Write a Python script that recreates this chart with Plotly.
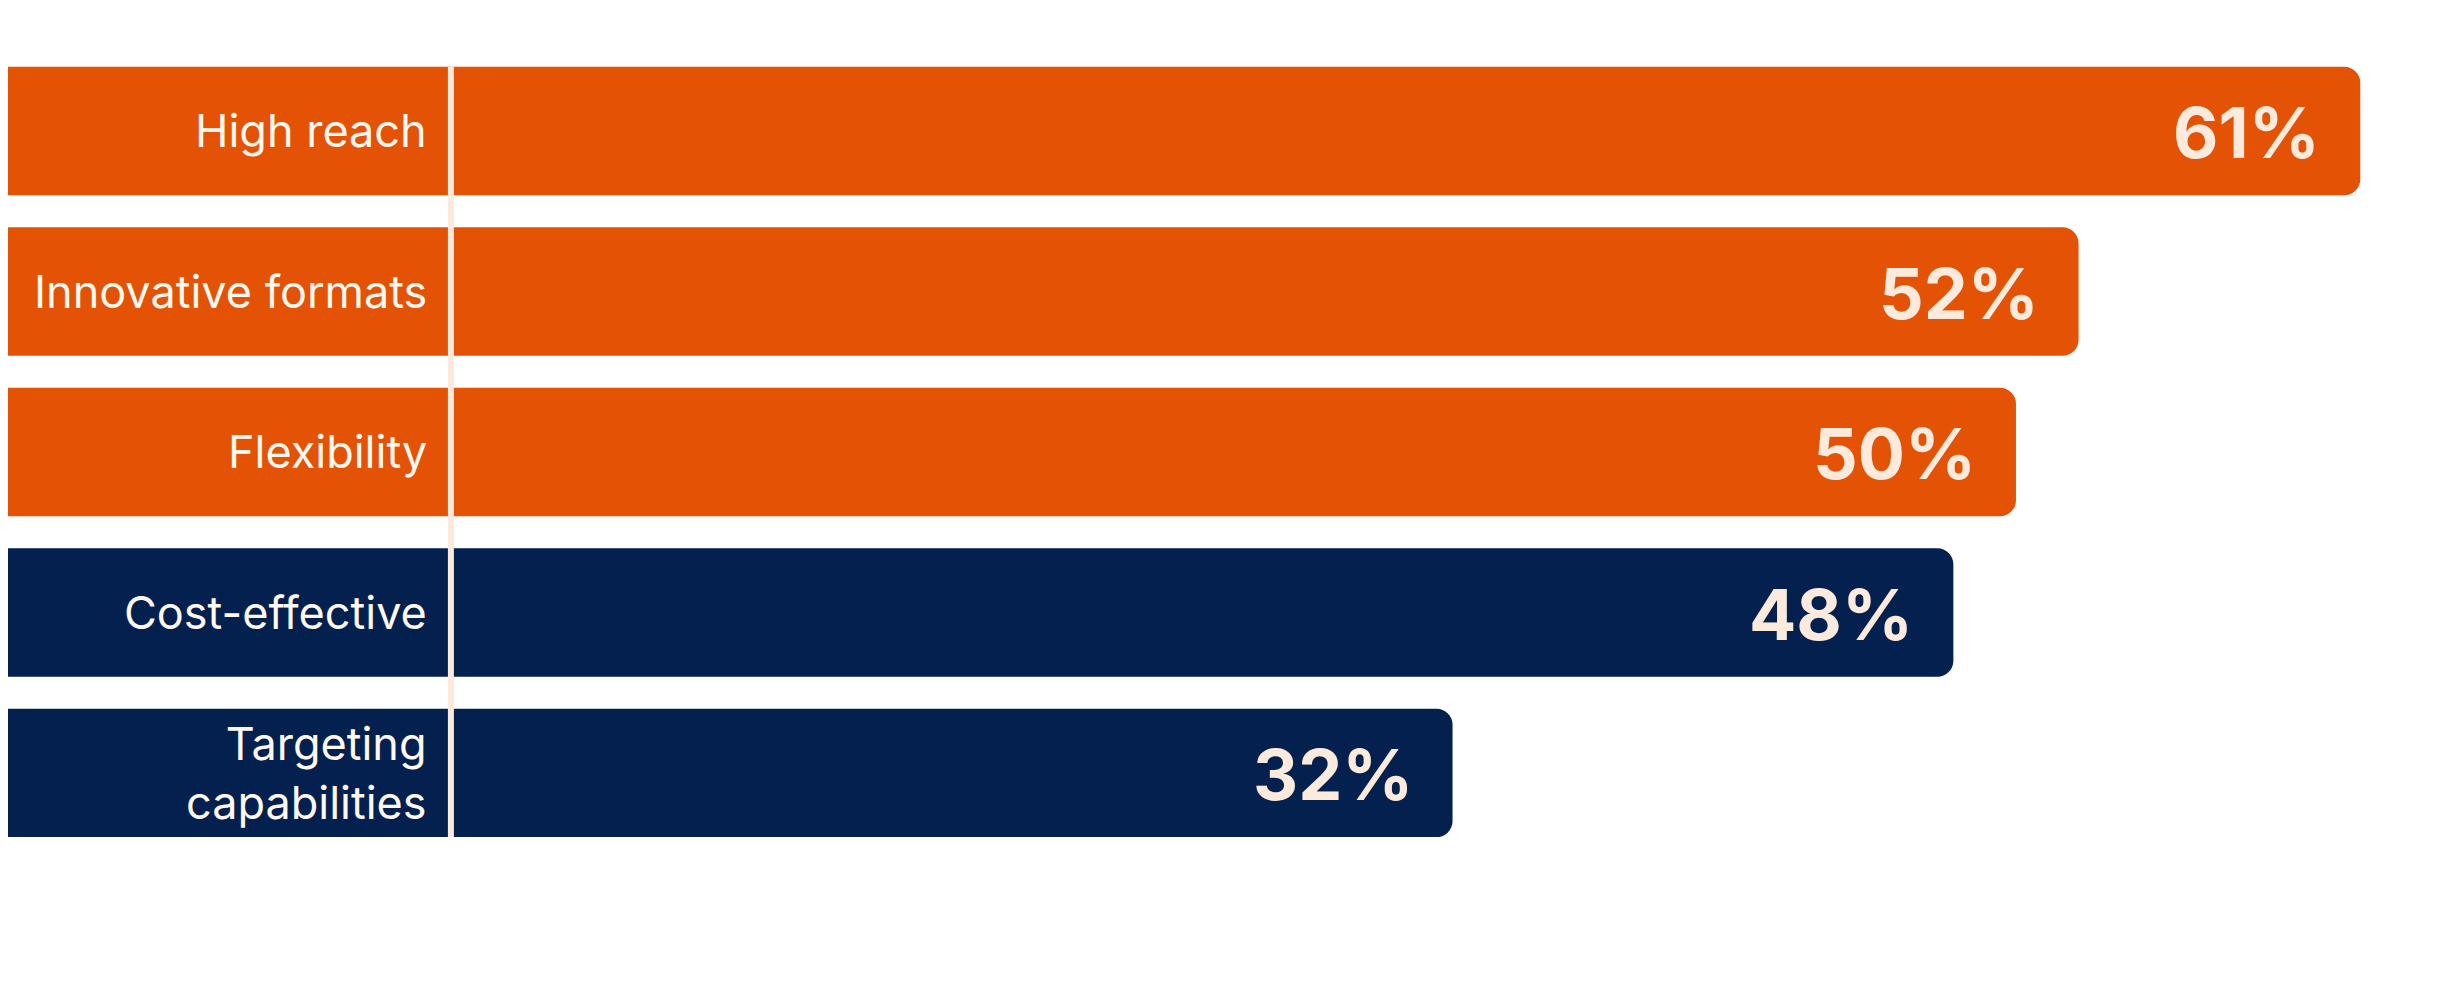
import plotly.graph_objects as go

categories = ["High reach", "Innovative formats", "Flexibility", "Cost-effective", "Targeting<br>capabilities"]
values = [61, 52, 50, 48, 32]
colors = ["#E35205", "#E35205", "#E35205", "#03204F", "#03204F"]
value_labels = [f"{v}%" for v in values]

BASE = -20
XMIN = -14.15
CREAM = "#FCEBDC"

fig = go.Figure(go.Bar(
    y=list(range(len(values))), x=[v - BASE for v in values], base=BASE,
    orientation="h", marker=dict(color=colors, line=dict(width=0)),
    hoverinfo="skip",
))

for i, (c, lab) in enumerate(zip(categories, value_labels)):
    fig.add_annotation(x=0, y=i, text=c, showarrow=False, xanchor="right", xshift=-22,
                       align="right", font=dict(family="Inter", size=45, color="#FFF8F0"))
    fig.add_annotation(x=values[i], y=i, text=f"<b>{lab}</b>", showarrow=False, xanchor="right",
                       xshift=-38, yshift=-2, font=dict(family="Inter", size=70, color=CREAM))

fig.add_shape(type="line", x0=0, x1=0, y0=-0.4, y1=4.4, xref="x", yref="y",
              line=dict(color=CREAM, width=6))

fig.update_layout(
    width=2454, height=997, margin=dict(l=0, r=0, t=0, b=0),
    paper_bgcolor="white", plot_bgcolor="white", showlegend=False,
    bargap=0.2, barcornerradius=16,
    xaxis=dict(range=[XMIN, 64.25], visible=False, fixedrange=True),
    yaxis=dict(range=[5.446, -0.766], visible=False, fixedrange=True),
)
fig.write_html("out.html")
